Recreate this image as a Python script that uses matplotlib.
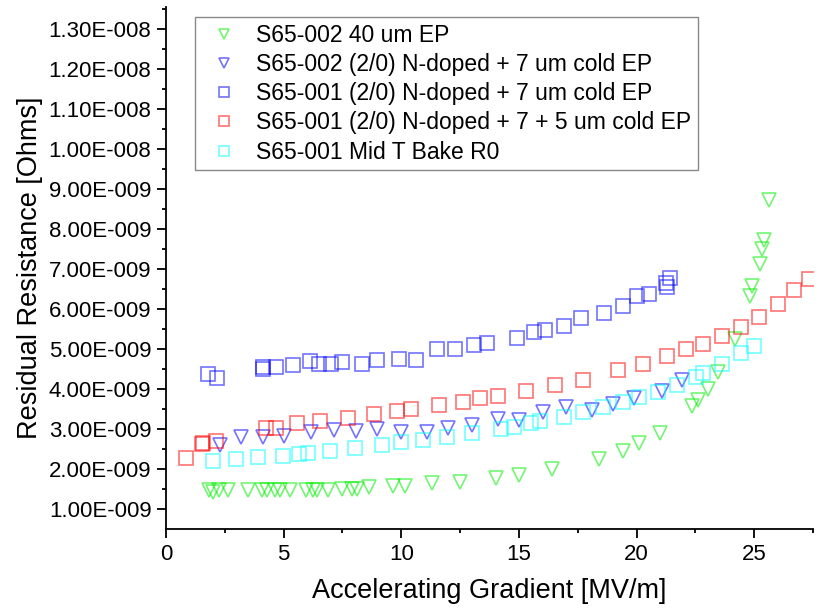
import matplotlib
matplotlib.use('Agg')
import matplotlib.pyplot as plt
from matplotlib.ticker import FixedLocator, MultipleLocator, FuncFormatter

plt.rcParams['font.family'] = ['Liberation Sans', 'DejaVu Sans']

# =========================
# DATA (gradient in MV/m, resistance in Ohms x 1e-9)
# =========================
ep40_x = [1.84, 2.01, 2.25, 2.65, 3.50, 4.07, 4.28, 4.63, 4.85, 5.27, 5.95, 6.26,
          6.41, 6.90, 7.47, 7.89, 8.11, 8.64, 9.66, 10.16, 11.30, 12.50, 14.02,
          15.01, 16.40, 18.41, 19.42, 20.11, 21.00, 22.36, 22.63, 23.03, 23.48,
          24.19, 24.80, 24.90, 25.23, 25.33, 25.41, 25.63]
ep40_y = [1.47, 1.42, 1.47, 1.47, 1.47, 1.47, 1.47, 1.47, 1.47, 1.47, 1.47, 1.47,
          1.47, 1.48, 1.49, 1.49, 1.49, 1.54, 1.58, 1.58, 1.64, 1.68, 1.78,
          1.85, 1.99, 2.26, 2.46, 2.64, 2.91, 3.58, 3.73, 4.00, 4.42,
          5.26, 6.33, 6.58, 7.13, 7.49, 7.73, 8.73]

nd002_x = [2.30, 3.19, 4.14, 5.02, 6.15, 7.14, 8.08, 8.96, 9.98, 11.08, 12.00,
           13.02, 14.13, 15.02, 16.01, 17.01, 18.11, 18.99, 19.91, 21.07, 21.92]
nd002_y = [2.60, 2.79, 2.81, 2.83, 2.92, 2.98, 2.96, 2.99, 2.92, 2.93, 3.02,
           3.10, 3.24, 3.23, 3.42, 3.54, 3.48, 3.62, 3.77, 3.96, 4.23]

nd001_x = [1.77, 2.16, 4.11, 4.11, 4.68, 5.39, 6.11, 6.50, 7.03, 7.50, 8.32, 8.97,
           9.92, 10.62, 11.51, 12.30, 13.11, 13.66, 14.91, 15.62, 16.11, 16.92,
           17.62, 18.61, 19.42, 20.01, 20.52, 21.23, 21.30, 21.40]
nd001_y = [4.37, 4.27, 4.54, 4.49, 4.56, 4.59, 4.69, 4.62, 4.63, 4.67, 4.63, 4.72,
           4.75, 4.72, 5.01, 5.01, 5.09, 5.14, 5.28, 5.42, 5.47, 5.58,
           5.78, 5.90, 6.07, 6.32, 6.37, 6.64, 6.54, 6.77]

nd001b_x = [0.85, 1.52, 1.59, 2.11, 4.25, 4.68, 5.57, 6.55, 7.74, 8.84, 9.81, 10.42,
            11.59, 12.61, 13.33, 14.10, 15.31, 16.53, 17.71, 19.20, 20.29, 21.30,
            22.11, 22.82, 23.62, 24.42, 25.21, 26.00, 26.70, 27.34]
nd001b_y = [2.28, 2.63, 2.66, 2.71, 3.03, 3.03, 3.15, 3.21, 3.28, 3.37, 3.45, 3.49,
            3.61, 3.68, 3.78, 3.83, 3.96, 4.10, 4.22, 4.48, 4.63, 4.82,
            5.00, 5.13, 5.32, 5.55, 5.81, 6.13, 6.48, 6.74]

midt_x = [2.01, 2.96, 3.90, 4.96, 5.67, 6.02, 6.97, 8.04, 9.17, 9.99, 10.93, 11.93,
          13.02, 14.23, 14.81, 15.51, 15.90, 16.92, 17.71, 18.59, 19.42, 20.11,
          20.93, 21.73, 22.53, 22.82, 23.62, 24.42, 25.01]
midt_y = [2.21, 2.26, 2.29, 2.33, 2.38, 2.41, 2.46, 2.53, 2.60, 2.67, 2.73, 2.80,
          2.89, 3.01, 3.06, 3.14, 3.20, 3.31, 3.42, 3.54, 3.68, 3.79,
          3.93, 4.10, 4.29, 4.41, 4.62, 4.90, 5.08]

Y_TICKS = [1, 2, 3, 4, 5, 6, 7, 8, 9, 10, 11, 12, 13]

SERIES = [
    ("S65-002 40 um EP", ep40_x, ep40_y, "v", "#00ee00"),
    ("S65-002 (2/0) N-doped + 7 um cold EP", nd002_x, nd002_y, "v", "#0000ff"),
    ("S65-001 (2/0) N-doped + 7 um cold EP", nd001_x, nd001_y, "s", "#0000ff"),
    ("S65-001 (2/0) N-doped + 7 + 5 um cold EP", nd001b_x, nd001b_y, "s", "#ff0000"),
    ("S65-001 Mid T Bake R0", midt_x, midt_y, "s", "#00ffff"),
]


def sci_fmt(v, pos):
    if v == 0:
        return "0"
    s = f"{v:.2E}"
    mant, exp = s.split("E")
    sign = "-" if exp[0] == "-" else ""
    return f"{mant}E{sign}{int(exp[1:]):03d}"


fig = plt.figure(figsize=(8.25, 6.13), dpi=100)
ax = fig.add_axes([0.2012, 0.137, 0.7843, 0.8516])

for label, xs, ys, mk, col in SERIES:
    ax.plot(xs, [y * 1e-9 for y in ys], linestyle="none", marker=mk,
            markersize=10.5 if mk == "v" else 9.5, markerfacecolor="none",
            markeredgecolor=col, markeredgewidth=1.2, alpha=0.55, label=label)

ax.set_xlim(0, 27.5)
ax.set_ylim(0.5e-9, 1.355e-8)
ax.xaxis.set_major_locator(MultipleLocator(5))
ax.xaxis.set_minor_locator(MultipleLocator(2.5))
ax.yaxis.set_major_locator(FixedLocator([t * 1e-9 for t in Y_TICKS]))
ax.yaxis.set_minor_locator(FixedLocator([(t + 0.5) * 1e-9 for t in Y_TICKS]))
ax.yaxis.set_major_formatter(FuncFormatter(sci_fmt))

for side in ("top", "right"):
    ax.spines[side].set_visible(False)
for side in ("left", "bottom"):
    ax.spines[side].set_linewidth(1.3)

ax.tick_params(which="major", length=6.5, width=1.3, labelsize=16, pad=4)
ax.tick_params(which="minor", length=3, width=1.3)

ax.set_xlabel("Accelerating Gradient [MV/m]", fontsize=19.5, labelpad=10)
ax.set_ylabel("Residual Resistance [Ohms]", fontsize=19.5, labelpad=4)

leg = ax.legend(loc="upper left", bbox_to_anchor=(0.045, 0.981), borderaxespad=0,
                fontsize=16.5, fancybox=False, edgecolor="#888888", framealpha=1,
                markerscale=0.75, handlelength=1.95, handletextpad=0.4,
                labelspacing=0.27, borderpad=0.3)
leg.get_frame().set_linewidth(1.0)

fig.savefig("out.png", dpi=100)
